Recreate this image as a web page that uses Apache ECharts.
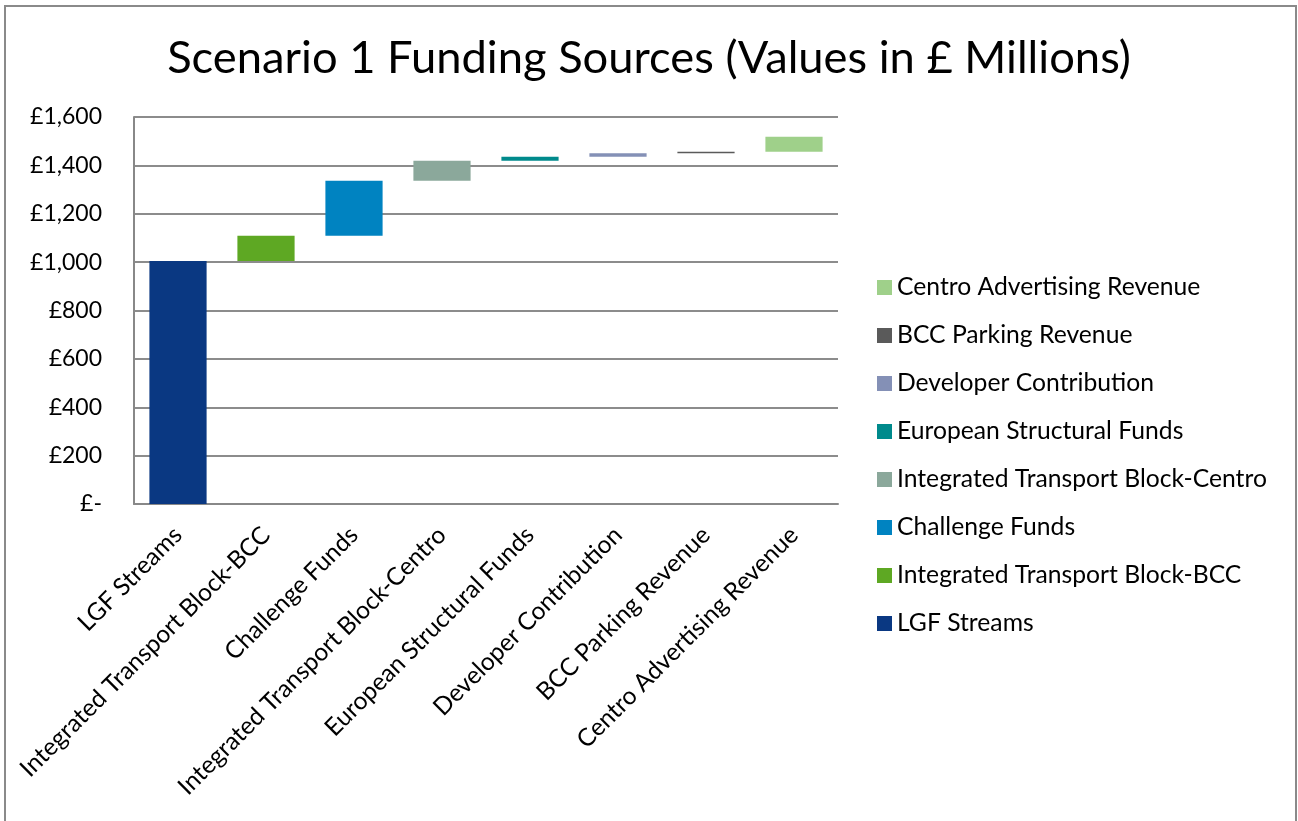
<!DOCTYPE html>
<html>
<head>
<meta charset="utf-8">
<script src="https://cdn.jsdelivr.net/npm/echarts@6/dist/echarts.min.js"></script>
<style>
html,body{margin:0;padding:0;background:#fff;}
#chart{width:1298px;height:821px;}
</style>
</head>
<body>
<div id="chart"></div>
<script>
const categories = ['LGF Streams','Integrated Transport Block-BCC','Challenge Funds','Integrated Transport Block-Centro','European Structural Funds','Developer Contribution','BCC Parking Revenue','Centro Advertising Revenue'];
const values = [1005, 104, 227, 83, 17, 14, 6, 62];
const colors = ['#0A3882','#5EA823','#0083C1','#8BA89B','#008A8C','#8490B6','#5A5A5A','#9FD08A'];
const yTicks = [0, 200, 400, 600, 800, 1000, 1200, 1400, 1600];

const FONT = 'Lato';
const chart = echarts.init(document.getElementById('chart'));

// invisible base for the waterfall, built from values
const base = [];
let run = 0;
values.forEach(v => { base.push(run); run += v; });

const series = [{
  name: '_base', type: 'bar', stack: 'total', silent: true,
  itemStyle: { color: 'transparent' },
  data: base, barCategoryGap: '35%'
}];
categories.forEach((c, i) => {
  series.push({
    name: c, type: 'bar', stack: 'total',
    itemStyle: { color: colors[i] },
    data: values.map((v, j) => j === i ? v : '-'),
    barCategoryGap: '35%'
  });
});

function fmt(v) {
  if (v === 0) return '£-';
  return '£' + v.toLocaleString('en-GB');
}

chart.setOption({
  animation: false,
  backgroundColor: '#fff',
  textStyle: { fontFamily: FONT },
  title: {
    text: 'Scenario 1 Funding Sources (Values in £ Millions)',
    left: 'center', top: 31,
    textStyle: { fontFamily: FONT, fontSize: 45.3, fontWeight: 'normal', color: '#000' }
  },
  graphic: [{
    type: 'rect', silent: true,
    shape: { x: 5, y: 6, width: 1291, height: 840 },
    style: { fill: 'none', stroke: '#8a8a8a', lineWidth: 2 }
  }],
  legend: {
    orient: 'vertical', left: 872, top: 270,
    itemWidth: 15, itemHeight: 15, itemGap: 23,
    icon: 'rect',
    data: categories.slice().reverse(),
    textStyle: { fontFamily: FONT, fontSize: 24.7, color: '#000', lineHeight: 25 }
  },
  grid: { left: 134, right: 460, top: 117, bottom: 317, containLabel: false },
  xAxis: {
    type: 'category', data: categories,
    axisLine: { lineStyle: { color: '#888', width: 2 } },
    axisTick: { show: false },
    axisLabel: { rotate: 45, interval: 0, fontSize: 24.5, color: '#000', margin: 27, fontFamily: FONT }
  },
  yAxis: {
    type: 'value', min: yTicks[0], max: yTicks[yTicks.length - 1], interval: 200,
    axisLine: { show: true, lineStyle: { color: '#888', width: 2 } },
    axisTick: { show: false },
    splitLine: { lineStyle: { color: '#8c8c8c', width: 2 } },
    axisLabel: { formatter: fmt, fontSize: 23, color: '#000', margin: 32, fontFamily: FONT }
  },
  series: series
});
</script>
</body>
</html>
